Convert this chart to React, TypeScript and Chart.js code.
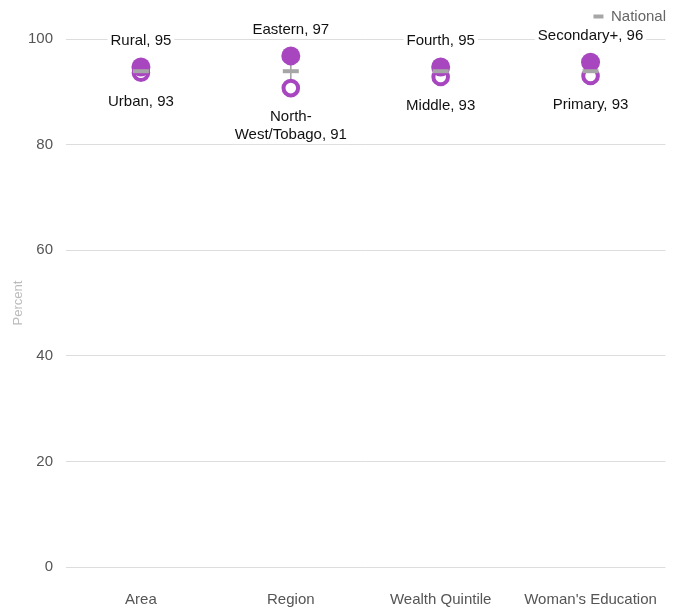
import React, { useEffect, useRef } from "react";
import { Chart, registerables } from "chart.js";

Chart.register(...registerables);

const categories = ["Area", "Region", "Wealth Quintile", "Woman's Education"];
const highValues = [94.7, 96.8, 94.7, 95.6];
const lowValues = [93.6, 90.7, 92.8, 93.0];
const nationalValues = [93.9, 93.9, 93.9, 93.9];
const highLabels = [["Rural, 95"], ["Eastern, 97"], ["Fourth, 95"], ["Secondary+, 96"]];
const lowLabels = [["Urban, 93"], ["North-", "West/Tobago, 91"], ["Middle, 93"], ["Primary, 93"]];
const yTicks = [0, 20, 40, 60, 80, 100];

const PURPLE = "#A846C0";
const GRAY = "#A6A6A6";
const FONT = "'Liberation Sans', Arial, sans-serif";

const legendSpacer = {
  id: "legendSpacer",
  afterInit(chart: any) {
    const legend = chart.legend;
    if (!legend) return;
    const orig = legend.fit;
    legend.fit = function () {
      orig.call(this);
      this.height += 5;
    };
  },
};

const labelPlugin = {
  id: "pointLabels",
  afterDatasetsDraw(chart: any) {
    const ctx = chart.ctx;
    ctx.save();
    ctx.font = `15px ${FONT}`;
    ctx.textAlign = "center";
    ctx.textBaseline = "middle";
    const draw = (lines: string[], x: number, y: number) => {
      lines.forEach((t, i) => {
        const yy = y + i * 18;
        const w = ctx.measureText(t).width;
        ctx.fillStyle = "#ffffff";
        ctx.fillRect(x - w / 2 - 3, yy - 9, w + 6, 18);
        ctx.fillStyle = "#111111";
        ctx.fillText(t, x, yy);
      });
    };
    const hiMeta = chart.getDatasetMeta(2);
    const loMeta = chart.getDatasetMeta(1);
    hiMeta.data.forEach((p: any, i: number) => {
      const lines = highLabels[i];
      draw(lines, p.x, p.y - 26 - (lines.length - 1) * 18);
    });
    loMeta.data.forEach((p: any, i: number) => {
      draw(lowLabels[i], p.x, p.y + 29);
    });
    ctx.restore();
  },
};

export default function App() {
  const ref = useRef<HTMLCanvasElement>(null);
  useEffect(() => {
    const chart = new Chart(ref.current!, {
      type: "line",
      data: {
        labels: categories,
        datasets: [
          {
            type: "bar",
            label: "range",
            data: categories.map((_, i) => [lowValues[i], highValues[i]]),
            backgroundColor: GRAY,
            barThickness: 1,
            order: 4,
          } as any,
          {
            label: "low",
            data: lowValues,
            showLine: false,
            pointStyle: "circle",
            pointRadius: 7.3,
            pointBorderWidth: 4,
            pointBorderColor: PURPLE,
            pointBackgroundColor: "#ffffff",
            order: 3,
            clip: false,
          },
          {
            label: "high",
            data: highValues,
            showLine: false,
            pointStyle: "circle",
            pointRadius: 9.5,
            pointBorderWidth: 0,
            pointBackgroundColor: PURPLE,
            pointBorderColor: PURPLE,
            order: 2,
            clip: false,
          },
          {
            label: "National",
            data: nationalValues,
            showLine: false,
            pointStyle: "line",
            pointRadius: 8,
            pointBorderWidth: 4,
            pointBorderColor: GRAY,
            pointBackgroundColor: GRAY,
            borderColor: GRAY,
            backgroundColor: GRAY,
            borderWidth: 4,
            order: 1,
            clip: false,
          },
        ],
      },
      options: {
        animation: false,
        responsive: false,
        maintainAspectRatio: false,
        layout: { padding: { left: 0, right: 17, top: 9, bottom: 0 } },
        plugins: {
          tooltip: { enabled: false },
          legend: {
            position: "top",
            align: "end",
            labels: {
              filter: (item: any) => item.text === "National",
              usePointStyle: true,
              pointStyle: "line",
              pointStyleWidth: 10,
              boxHeight: 4,
              color: "#666666",
              font: { size: 15, family: FONT },
              padding: 0,
            },
          },
        },
        scales: {
          x: {
            type: "category",
            offset: true,
            grid: { display: false, drawTicks: false },
            border: { display: false },
            ticks: { color: "#555555", font: { size: 15, family: FONT }, padding: 24 },
            afterFit: (s: any) => {
              s.height = 41;
            },
          },
          y: {
            min: 0,
            max: 100,
            afterBuildTicks: (s: any) => {
              s.ticks = yTicks.map((v) => ({ value: v }));
            },
            grid: { color: "#DDDDDD", drawTicks: false },
            border: { display: false },
            ticks: { color: "#555555", font: { size: 15, family: FONT }, padding: 13 },
            title: {
              display: true,
              text: "Percent",
              color: "#BBBBBB",
              font: { size: 13, family: FONT },
              padding: { top: 11, bottom: 0 },
            },
            afterFit: (s: any) => {
              s.width = 66;
            },
          },
        },
      },
      plugins: [legendSpacer, labelPlugin],
    });
    return () => chart.destroy();
  }, []);
  return (
    <div style={{ position: "absolute", left: 0, top: 0, width: 683, height: 608, background: "#fff" }}>
      <canvas ref={ref} width={683} height={608} style={{ display: "block" }} />
    </div>
  );
}
